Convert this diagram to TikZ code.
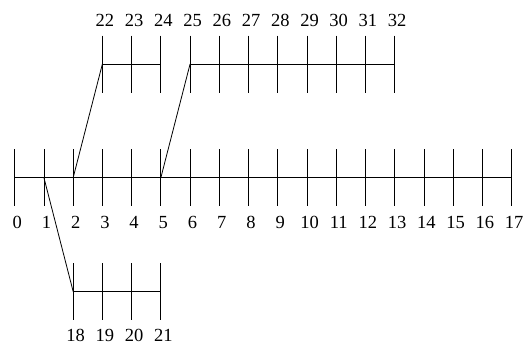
\documentclass[tikz,border=0pt]{standalone}
\usepackage{fontspec}
\setmainfont{Liberation Serif}
\begin{document}
\begin{tikzpicture}[x=1pt,y=-1pt,line width=0.8pt,
  lbl/.style={font=\fontsize{18.5}{20}\selectfont,inner sep=0pt,anchor=base},
  tick/.style={draw,line width=0.8pt}]
\useasboundingbox (0,0) rectangle (531,344);
% main scale
\foreach \i in {0,...,17}{
  \pgfmathsetmacro\x{14.7+29.23*\i}
  \coordinate (m\i) at (\x,177.7);
  \draw[tick] (\x,149.3) -- (\x,206);
  \node[lbl] (lm\i) at (\x+2.5,228.3) {\i};
}
\draw (m0) -- (m17);
% upper left branch 22-24
\foreach \i/\t in {3/22,4/23,5/24}{
  \pgfmathsetmacro\x{14.7+29.23*\i}
  \coordinate (u\i) at (\x,64);
  \draw[tick] (\x,35.7) -- (\x,92.7);
  \node[lbl] (lu\i) at (\x+2.5,26.7) {\t};
}
\draw (u3) -- (u5);
% upper right branch 25-32
\foreach \i/\t in {6/25,7/26,8/27,9/28,10/29,11/30,12/31,13/32}{
  \pgfmathsetmacro\x{14.7+29.23*\i}
  \coordinate (u\i) at (\x,64);
  \draw[tick] (\x,35.7) -- (\x,92.7);
  \node[lbl] (lu\i) at (\x+2.5,26.7) {\t};
}
\draw (u6) -- (u13);
% lower branch 18-21
\foreach \i/\t in {2/18,3/19,4/20,5/21}{
  \pgfmathsetmacro\x{14.7+29.23*\i}
  \coordinate (d\i) at (\x,291.5);
  \draw[tick] (\x,263.3) -- (\x,320);
  \node[lbl] (ld\i) at (\x+2.5,341.5) {\t};
}
\draw (d2) -- (d5);
% connectors
\draw (m1) -- (d2);
\draw (m2) -- (u3);
\draw (m5) -- (u6);
\end{tikzpicture}
\end{document}
